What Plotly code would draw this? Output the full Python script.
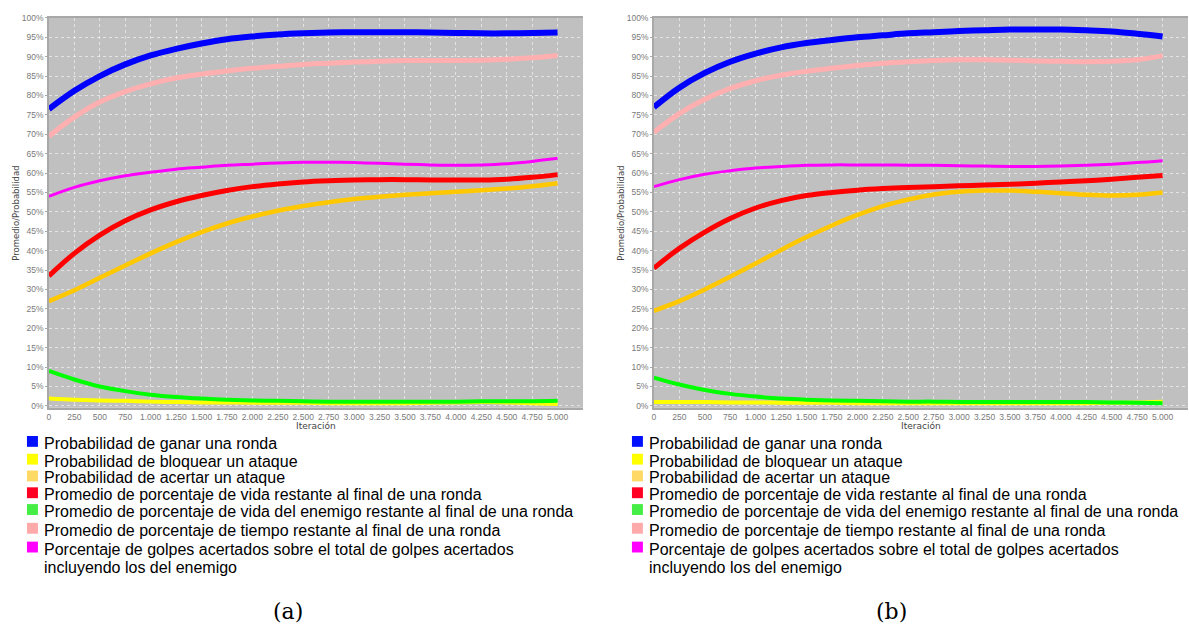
import plotly.graph_objects as go

W, H = 1189, 632

# Iteration checkpoints (x axis)
iteraciones = list(range(0, 5001, 250))

# Panel (a) series, percentages
a_ganar = [76.5, 81.2, 85.0, 88.0, 90.3, 92.0, 93.4, 94.5, 95.2, 95.7, 96.0, 96.2, 96.3, 96.3, 96.3, 96.2, 96.1, 96.0, 96.0, 96.1, 96.2]
a_bloquear = [1.9, 1.6, 1.4, 1.3, 1.1, 1.0, 0.9, 0.9, 0.8, 0.8, 0.8, 0.7, 0.7, 0.7, 0.7, 0.8, 0.9, 1.0, 0.9, 0.7, 0.5]
a_acertar = [27.0, 29.8, 33.0, 36.2, 39.3, 42.2, 44.8, 47.0, 48.8, 50.3, 51.5, 52.5, 53.3, 53.9, 54.4, 54.8, 55.2, 55.6, 56.0, 56.6, 57.4]
a_vida = [33.5, 39.3, 44.0, 47.7, 50.5, 52.6, 54.2, 55.5, 56.5, 57.2, 57.7, 58.0, 58.2, 58.3, 58.3, 58.2, 58.2, 58.2, 58.4, 58.9, 59.6]
a_vida_enemigo = [9.0, 6.8, 5.0, 3.8, 2.9, 2.3, 1.9, 1.6, 1.4, 1.3, 1.2, 1.1, 1.1, 1.1, 1.1, 1.1, 1.1, 1.2, 1.2, 1.2, 1.3]
a_tiempo = [69.5, 74.4, 78.3, 81.0, 83.0, 84.5, 85.5, 86.3, 87.0, 87.5, 88.0, 88.3, 88.6, 88.8, 89.0, 89.0, 89.0, 89.1, 89.3, 89.7, 90.3]
a_golpes = [54.0, 56.3, 58.0, 59.3, 60.2, 61.0, 61.5, 62.0, 62.3, 62.6, 62.8, 62.8, 62.7, 62.5, 62.3, 62.1, 62.0, 62.1, 62.4, 63.0, 63.8]

# Panel (b) series, percentages
b_ganar = [77.0, 82.0, 85.8, 88.7, 90.8, 92.4, 93.5, 94.3, 95.0, 95.5, 96.0, 96.3, 96.6, 96.8, 97.0, 97.0, 97.0, 96.8, 96.5, 95.9, 95.2]
b_bloquear = [1.0, 1.0, 1.0, 0.9, 0.9, 0.8, 0.8, 0.8, 0.7, 0.7, 0.7, 0.7, 0.7, 0.7, 0.7, 0.7, 0.7, 0.7, 0.8, 0.9, 1.1]
b_acertar = [24.5, 27.0, 30.0, 33.3, 36.7, 40.2, 43.5, 46.5, 49.2, 51.5, 53.2, 54.5, 55.2, 55.5, 55.5, 55.2, 54.8, 54.4, 54.2, 54.4, 55.0]
b_vida = [35.5, 40.6, 44.8, 48.3, 51.0, 52.9, 54.2, 55.0, 55.6, 56.0, 56.3, 56.5, 56.7, 56.9, 57.1, 57.4, 57.7, 58.0, 58.4, 58.9, 59.4]
b_vida_enemigo = [7.3, 5.5, 4.1, 3.1, 2.4, 1.9, 1.6, 1.4, 1.3, 1.2, 1.1, 1.1, 1.0, 1.0, 1.0, 1.0, 1.0, 1.0, 0.9, 0.8, 0.7]
b_tiempo = [70.5, 75.3, 79.0, 81.8, 83.8, 85.2, 86.2, 87.0, 87.7, 88.3, 88.7, 89.0, 89.2, 89.2, 89.1, 88.9, 88.8, 88.7, 88.8, 89.2, 90.2]
b_golpes = [56.5, 58.3, 59.7, 60.6, 61.3, 61.7, 62.0, 62.1, 62.1, 62.1, 62.0, 62.0, 61.9, 61.8, 61.7, 61.7, 61.8, 62.0, 62.3, 62.7, 63.2]

nombres = [
    "Probabilidad de ganar una ronda",
    "Probabilidad de bloquear un ataque",
    "Probabilidad de acertar un ataque",
    "Promedio de porcentaje de vida restante al final de una ronda",
    "Promedio de porcentaje de vida del enemigo restante al final de una ronda",
    "Promedio de porcentaje de tiempo restante al final de una ronda",
    "Porcentaje de golpes acertados sobre el total de golpes acertados",
]
nombre_continuacion = "incluyendo los del enemigo"
colores_linea = ["#0000FF", "#FFFF00", "#FFC800", "#FF0000", "#00FF00", "#FFAFAF", "#FF00FF"]
colores_leyenda = ["#0010FF", "#FFFF00", "#FFD966", "#FF0022", "#44EE44", "#FFAAAA", "#FF00FF"]
grosores = [6, 4, 4.5, 5, 4, 5, 3]

y_ticks = list(range(0, 101, 5))
y_ticktext = [f"{v}%" for v in y_ticks]
x_ticks = list(range(0, 5001, 250))
x_ticktext = [f"{v:,}".replace(",", ".") for v in x_ticks]

panel_a = [a_ganar, a_bloquear, a_acertar, a_vida, a_vida_enemigo, a_tiempo, a_golpes]
panel_b = [b_ganar, b_bloquear, b_acertar, b_vida, b_vida_enemigo, b_tiempo, b_golpes]


def px(x):
    return x / W


def py(y):
    return 1 - y / H


# Panel geometry (pixels)
top, bottom = 13, 408
paneles = [
    {"left": 47, "right": 582, "series": panel_a, "ax": "", "cap": "(a)", "capx": 286},
    {"left": 653, "right": 1188, "series": panel_b, "ax": "2", "cap": "(b)", "capx": 891},
]

fig = go.Figure()
annotations = []
shapes = []

for p in paneles:
    for serie, nombre, col, lw in zip(p["series"], nombres, colores_linea, grosores):
        fig.add_trace(go.Scatter(
            x=iteraciones, y=serie, mode="lines", name=nombre,
            line=dict(color=col, width=lw, shape="spline", smoothing=1.0),
            xaxis="x" + p["ax"], yaxis="y" + p["ax"], showlegend=False,
        ))

axis_common = dict(
    showgrid=True, gridcolor="rgba(255,255,255,0.55)", gridwidth=1, griddash="dot",
    showline=True, linecolor="#A8A8A8", linewidth=1.5, zeroline=False,
    tickfont=dict(family="Liberation Sans", size=8.5, color="#7A7A7A"),
)

layout = dict(
    width=W, height=H, margin=dict(l=0, r=0, t=0, b=0),
    paper_bgcolor="white", plot_bgcolor="#C0C0C0", showlegend=False,
)

for p in paneles:
    xa = "xaxis" + p["ax"]
    ya = "yaxis" + p["ax"]
    layout[xa] = dict(
        axis_common, domain=[px(p["left"]), px(p["right"])], range=[0, 5250],
        tickvals=x_ticks, ticktext=x_ticktext, tickangle=0, mirror=True,
        ticks="", anchor="y" + p["ax"],
    )
    layout[ya] = dict(
        axis_common, domain=[py(bottom), py(top)], range=[-0.5, 100],
        tickvals=y_ticks, ticktext=y_ticktext, anchor="x" + p["ax"],
        ticks="outside", ticklen=2, tickcolor="#A8A8A8",
    )
    cx = (p["left"] + p["right"]) / 2
    annotations.append(dict(
        text="Iteración", x=px(cx), y=py(426.5), xref="paper", yref="paper",
        showarrow=False, font=dict(family="DejaVu Sans", size=9, color="#444444"),
        xanchor="center", yanchor="middle",
    ))
    annotations.append(dict(
        text="Promedio/Probabilidad", x=px(p["left"] - 33), y=py((top + bottom) / 2),
        xref="paper", yref="paper", showarrow=False, textangle=-90,
        font=dict(family="DejaVu Sans", size=8.5, color="#444444"),
        xanchor="center", yanchor="middle",
    ))
    # Legend block beneath each panel
    sx = p["left"] - 22
    filas = [442, 460, 477, 494, 511, 530, 549]
    for i, (nombre, col) in enumerate(zip(nombres, colores_leyenda)):
        yc = filas[i]
        shapes.append(dict(
            type="rect", xref="paper", yref="paper",
            x0=px(sx), x1=px(sx + 11), y0=py(yc + 5.5), y1=py(yc - 5.5),
            fillcolor=col, line=dict(width=0),
        ))
        annotations.append(dict(
            text=nombre, x=px(sx + 15), y=py(yc + 2), xref="paper", yref="paper",
            showarrow=False, xanchor="left", yanchor="middle", align="left",
            font=dict(family="Liberation Sans", size=16, color="#000000"),
        ))
    annotations.append(dict(
        text=nombre_continuacion, x=px(sx + 15), y=py(570), xref="paper", yref="paper",
        showarrow=False, xanchor="left", yanchor="middle", align="left",
        font=dict(family="Liberation Sans", size=16, color="#000000"),
    ))
    annotations.append(dict(
        text=p["cap"], x=px(p["capx"]), y=py(614), xref="paper", yref="paper",
        showarrow=False, xanchor="center", yanchor="middle",
        font=dict(family="DejaVu Serif", size=22, color="#000000"),
    ))

layout["annotations"] = annotations
layout["shapes"] = shapes
fig.update_layout(**layout)

fig.write_html("out.html")
